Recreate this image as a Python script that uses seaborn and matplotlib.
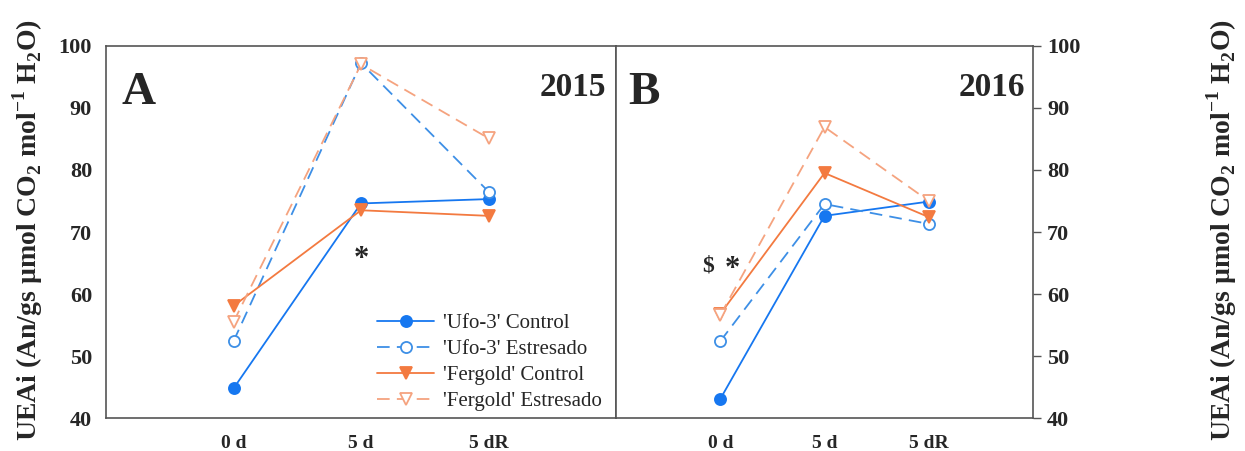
import matplotlib
matplotlib.use("Agg")
import matplotlib.pyplot as plt
import seaborn as sns
import numpy as np
import pandas as pd

sns.set_theme(style="white")
plt.rcParams["font.family"] = ["Liberation Serif", "DejaVu Serif"]
plt.rcParams["mathtext.fontset"] = "custom"
plt.rcParams["mathtext.rm"] = "Liberation Serif:bold"
plt.rcParams["mathtext.bf"] = "Liberation Serif:bold"

# Sampling days
days = ["0 d", "5 d", "5 dR"]
series_names = ["'Ufo-3' Control", "'Ufo-3' Estresado",
                "'Fergold' Control", "'Fergold' Estresado"]

# Intrinsic water-use efficiency, season 2015
ufo_control_2015 = [44.8, 74.6, 75.3]
ufo_stress_2015 = [52.4, 97.2, 76.5]
fergold_control_2015 = [58.1, 73.5, 72.6]
fergold_stress_2015 = [55.5, 97.0, 85.1]

# Intrinsic water-use efficiency, season 2016
ufo_control_2016 = [43.1, 72.6, 74.9]
ufo_stress_2016 = [52.4, 74.5, 71.3]
fergold_control_2016 = [56.8, 79.5, 72.4]
fergold_stress_2016 = [56.6, 86.9, 75.0]

y_ticks = [40, 50, 60, 70, 80, 90, 100]

styles = {
    "'Ufo-3' Control": dict(color="#1677f0", ls="-", marker="o", mfc="#1677f0", ms=8),
    "'Ufo-3' Estresado": dict(color="#3d8fe6", ls=(0, (7, 4)), marker="o", mfc="white", ms=8),
    "'Fergold' Control": dict(color="#f37a40", ls="-", marker="v", mfc="#f37a40", ms=8),
    "'Fergold' Estresado": dict(color="#f5a37f", ls=(0, (7, 4)), marker="v", mfc="white", ms=8),
}

panels = [
    dict(vals=[ufo_control_2015, ufo_stress_2015, fergold_control_2015, fergold_stress_2015],
         letter="A", year="2015"),
    dict(vals=[ufo_control_2016, ufo_stress_2016, fergold_control_2016, fergold_stress_2016],
         letter="B", year="2016"),
]

fig = plt.figure(figsize=(12.45, 4.51), dpi=100)
ax_a = fig.add_axes([106 / 1245, 1 - 418.3 / 451, 510 / 1245, 372.6 / 451])
ax_b = fig.add_axes([616 / 1245, 1 - 418.3 / 451, 417 / 1245, 372.6 / 451])

spine_col = "#555555"

for ax, panel in zip([ax_a, ax_b], panels):
    x_idx = np.arange(len(days))
    for name, vals in zip(series_names, panel["vals"]):
        st = styles[name]
        df = pd.DataFrame({"day": x_idx, "value": vals})
        sns.lineplot(data=df, x="day", y="value", ax=ax, color=st["color"],
                     linestyle=st["ls"], marker=st["marker"], markersize=st["ms"],
                     markerfacecolor=st["mfc"], markeredgecolor=st["color"],
                     markeredgewidth=1.3, linewidth=1.3, label=name, legend=False)
    ax.set_xlim(-1, 3)
    ax.set_ylim(40, 100)
    ax.set_xticks(x_idx)
    ax.set_xticklabels(days, fontweight="bold", fontsize=14)
    ax.set_yticks(y_ticks)
    ax.set_xlabel("")
    ax.set_ylabel("")
    for sp in ax.spines.values():
        sp.set_visible(True)
        sp.set_color(spine_col)
        sp.set_linewidth(1.2)
    ax.tick_params(axis="x", direction="out", length=4, width=1, color=spine_col, pad=8)
    ax.tick_params(axis="y", direction="out", length=6, width=1, color=spine_col, pad=4)
    ax.text(0.03, 0.93, panel["letter"], transform=ax.transAxes, fontsize=34,
            fontweight="bold", ha="left", va="top")
    ax.text(0.98, 0.93, panel["year"], transform=ax.transAxes, fontsize=24,
            fontweight="bold", ha="right", va="top")

ax_b.yaxis.tick_right()
for ax in (ax_a, ax_b):
    for lab in ax.get_yticklabels():
        lab.set_fontweight("bold")
        lab.set_fontsize(16)

# Significance marks
ax_a.text(1.0, 65.5, "*", fontsize=22, fontweight="bold", ha="center", va="center")
ax_b.text(-0.12, 64.5, "$", fontsize=17, fontweight="bold", ha="center", va="center")
ax_b.text(0.12, 64.0, "*", fontsize=22, fontweight="bold", ha="center", va="center")

ylabel = "UEAi (An/gs µmol CO$_2$ mol$^{-1}$ H$_2$O)"
fig.text(28 / 1245, 0.49, ylabel, rotation=90, ha="center", va="center",
         fontsize=20, fontweight="bold")
fig.text(1222 / 1245, 0.49, ylabel, rotation=90, ha="center", va="center",
         fontsize=20, fontweight="bold")

handles, labels = ax_a.get_legend_handles_labels()
ax_a.legend(handles, labels, loc="lower right", bbox_to_anchor=(1.005, -0.025),
            frameon=False, fontsize=15, handlelength=2.7, handletextpad=0.45,
            labelspacing=0.3, borderaxespad=0.4)

fig.savefig("out.png", dpi=100, facecolor="white")
